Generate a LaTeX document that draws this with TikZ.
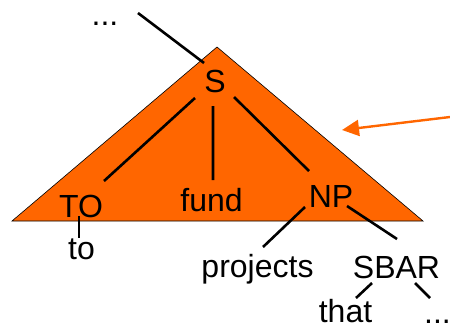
\documentclass[tikz,border=0pt]{standalone}
\usepackage{fontspec}
\setmainfont{Liberation Sans}
\usetikzlibrary{calc,arrows.meta}
\definecolor{treeorange}{HTML}{FF6600}
\begin{document}
\begin{tikzpicture}[x=1bp,y=-1bp,
  lbl/.style={anchor=base,inner sep=0pt,font=\fontsize{32bp}{38bp}\selectfont},
  edge/.style={line width=2.6bp,black},
  pointer/.style={line width=2.4bp,treeorange,-{Triangle[length=17bp,width=16bp]}}]
\useasboundingbox (0,0) rectangle (450,329);
% subtree triangle
\draw[fill=treeorange,draw=black,line width=0.6bp] (217,47) -- (12,221) -- (423,221) -- cycle;
% labels
\node[lbl] (dotsA) at (105,25) {...};
\node[lbl] (S) at (215,92) {S};
\node[lbl] (TO) at (81,217) {TO};
\node[lbl] (fund) at (211.5,211) {fund};
\node[lbl] (NP) at (331,207) {NP};
\node[lbl] (to) at (81.5,259) {to};
\node[lbl] (projects) at (257.5,277) {projects};
\node[lbl] (SBAR) at (396.5,278) {SBAR};
\node[lbl] (that) at (345.5,322) {that};
\node[lbl] (dotsB) at (437.5,323) {...};
\coordinate (up) at (138,13);
% edges
\draw[edge] (up) -- ($(S.base)+(-11,-29)$);
\draw[edge] ($(S.base)+(-20,6)$) -- ($(TO.base)+(23,-36)$);
\draw[edge] ($(S.base)+(-2,14)$) -- ($(fund.base)+(1.5,-31)$);
\draw[edge] ($(S.base)+(19,5)$) -- ($(NP.base)+(-22,-36)$);
\draw[edge] ($(TO.base)+(-2,-1)$) -- ($(to.base)+(-2.5,-21)$);
\draw[edge] ($(NP.base)+(-26,0)$) -- ($(projects.base)+(5.5,-30)$);
\draw[edge] ($(NP.base)+(16,-1)$) -- ($(SBAR.base)+(0.5,-39)$);
\draw[edge] ($(SBAR.base)+(-24.5,5)$) -- ($(that.base)+(10.5,-24)$);
\draw[edge] ($(SBAR.base)+(18.5,5)$) -- ($(dotsB.base)+(-7.5,-25)$);
% pointer arrow
\coordinate (arrowtail) at (450,117);
\coordinate (arrowtip) at (342,130);
\draw[pointer] (arrowtail) -- (arrowtip);
\end{tikzpicture}
\end{document}
